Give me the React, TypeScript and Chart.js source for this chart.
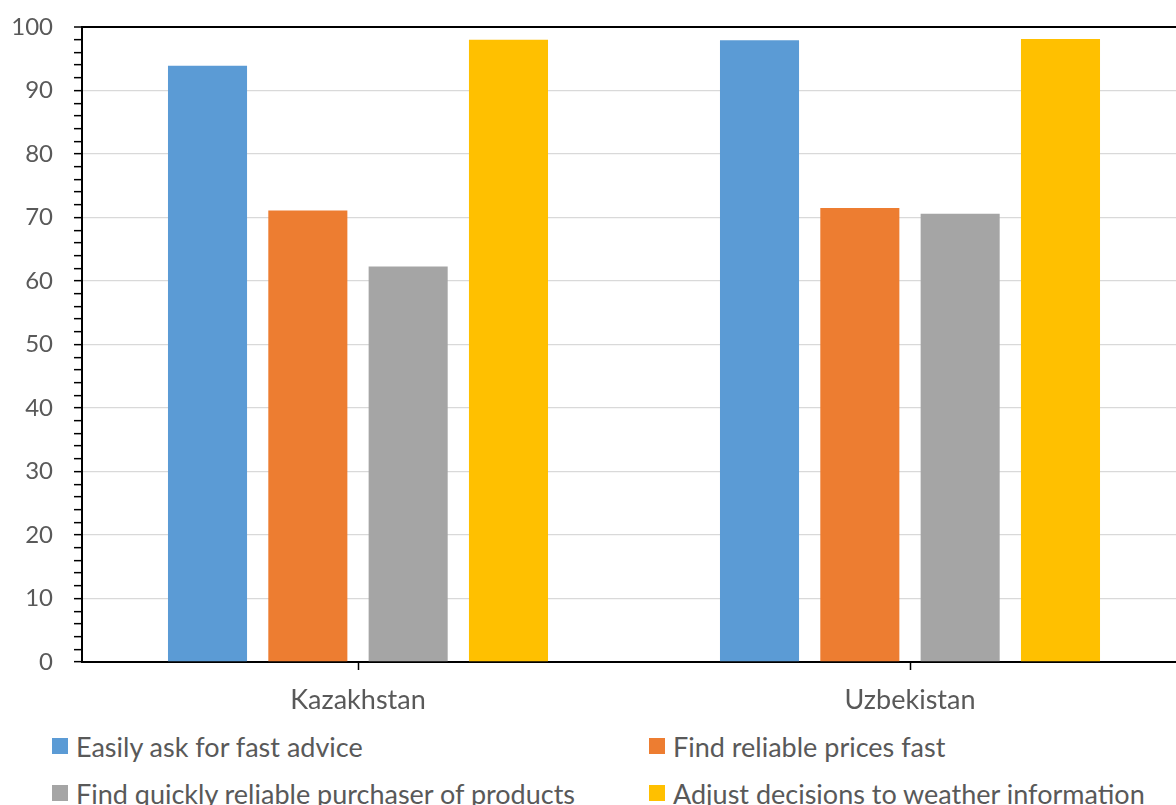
import React, { useEffect, useRef } from "react";
import { Chart, registerables } from "chart.js";

Chart.register(...registerables);

const categories = ["Kazakhstan", "Uzbekistan"];
const seriesNames = [
  "Easily ask for fast advice",
  "Find reliable prices fast",
  "Find quickly reliable purchaser of products",
  "Adjust decisions to weather information",
];
const easilyAskAdvice = [93.9, 97.9];
const reliablePrices = [71.1, 71.5];
const reliablePurchaser = [62.3, 70.6];
const weatherDecisions = [98.0, 98.1];
const seriesColors = ["#5B9BD5", "#ED7D31", "#A5A5A5", "#FFC000"];
const yMin = 0;
const yMax = 100;
const yMinorStep = 2;
const yLabelStep = 10;

const FONT = "Lato, 'Open Sans', sans-serif";
const TEXT = "#595959";

export default function App() {
  const canvasRef = useRef<HTMLCanvasElement | null>(null);

  useEffect(() => {
    const canvas = canvasRef.current;
    if (!canvas) return;
    const values = [easilyAskAdvice, reliablePrices, reliablePurchaser, weatherDecisions];
    const chart = new Chart(canvas, {
      type: "bar",
      data: {
        labels: categories,
        datasets: seriesNames.map((name, i) => ({
          label: name,
          data: values[i],
          backgroundColor: seriesColors[i],
          borderWidth: 0,
          categoryPercentage: 0.727,
          barPercentage: 0.788,
        })),
      },
      options: {
        responsive: false,
        animation: false,
        devicePixelRatio: 1,
        layout: { padding: { top: 27, left: 0, right: 0, bottom: 0 } },
        plugins: {
          legend: { display: false },
          tooltip: { enabled: false },
        },
        scales: {
          x: {
            grid: {
              offset: false,
              drawOnChartArea: false,
              tickLength: 8,
              tickColor: "#000",
              tickWidth: 1.5,
            },
            border: { color: "#000", width: 2 },
            ticks: {
              padding: 14,
              color: TEXT,
              font: { family: FONT, size: 27 },
            },
            afterFit: (s: any) => {
              s.height = 68;
              s.paddingLeft = 0;
              s.paddingRight = 0;
            },
          },
          y: {
            min: yMin,
            max: yMax,
            ticks: {
              stepSize: yMinorStep,
              autoSkip: false,
              padding: 21,
              color: TEXT,
              font: { family: FONT, size: 24 },
              callback: (v: any) => (Number(v) % yLabelStep === 0 ? String(v) : ""),
            },
            grid: {
              color: (ctx: any) => {
                const v = ctx.tick ? ctx.tick.value : -1;
                if (v === yMax) return "#000";
                if (v % yLabelStep === 0 && v !== yMin) return "#D9D9D9";
                return "rgba(0,0,0,0)";
              },
              lineWidth: (ctx: any) => (ctx.tick && ctx.tick.value === yMax ? 2 : 1.3),
              tickColor: "#000",
              tickLength: 8,
              tickWidth: 1.5,
            },
            border: { color: "#000", width: 2 },
            afterFit: (s: any) => {
              s.width = 82;
              s.paddingTop = 0;
              s.paddingBottom = 0;
            },
          },
        },
      },
    });
    return () => chart.destroy();
  }, []);

  const legendPos = [
    { left: 52, top: 738 },
    { left: 649, top: 738 },
    { left: 52, top: 785 },
    { left: 649, top: 785 },
  ];

  return (
    <div
      style={{
        position: "absolute",
        left: 0,
        top: 0,
        width: 1176,
        height: 805,
        overflow: "hidden",
        background: "#fff",
      }}
    >
      <canvas ref={canvasRef} width={1186} height={730} style={{ display: "block", width: 1186, height: 730 }} />
      {seriesNames.map((name, i) => (
        <div
          key={name}
          style={{
            position: "absolute",
            left: legendPos[i].left,
            top: legendPos[i].top - 6,
            height: 28,
            display: "flex",
            alignItems: "center",
            whiteSpace: "nowrap",
            fontFamily: FONT,
            fontSize: 27,
            color: TEXT,
          }}
        >
          <span
            style={{
              display: "inline-block",
              width: 16,
              height: 16,
              background: seriesColors[i],
              marginRight: 8,
            }}
          />
          <span>{name}</span>
        </div>
      ))}
    </div>
  );
}
